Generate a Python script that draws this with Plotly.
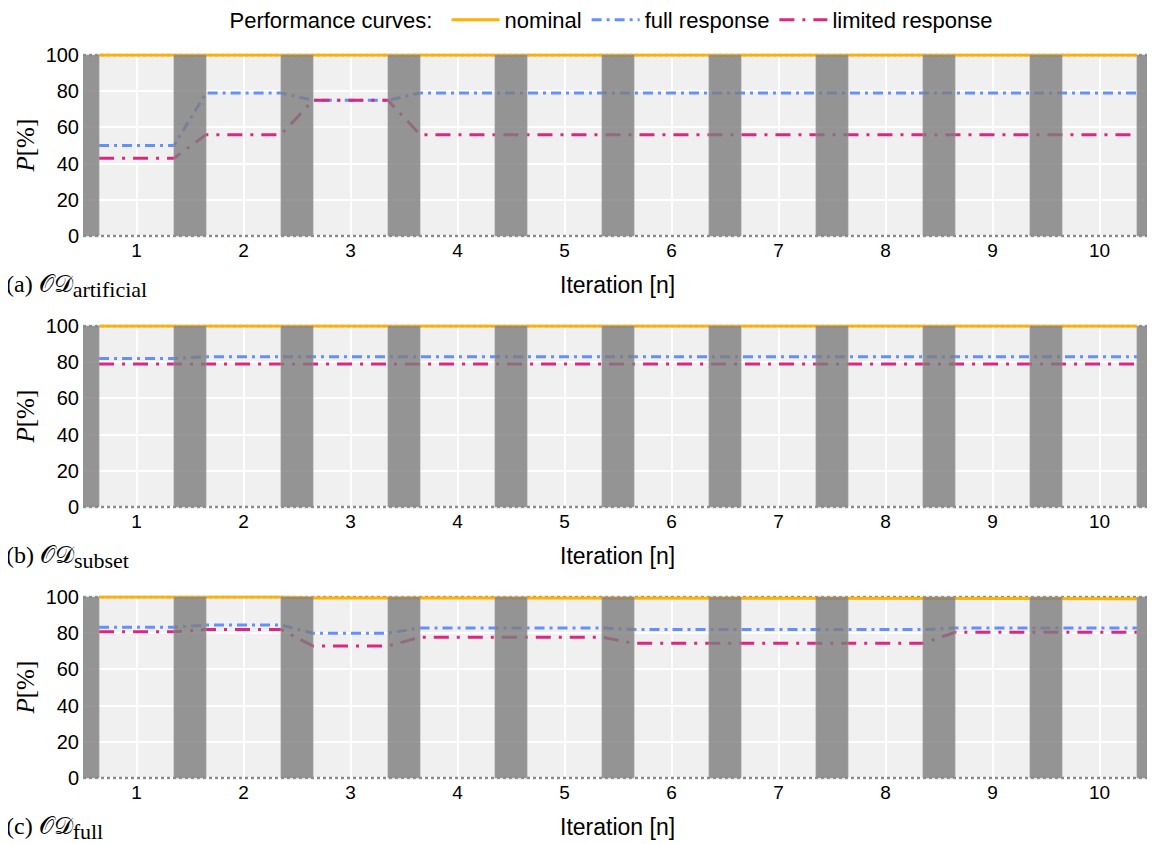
import plotly.graph_objects as go
from plotly.subplots import make_subplots

iterations = [1, 2, 3, 4, 5, 6, 7, 8, 9, 10]
x_tick_labels = ["1", "2", "3", "4", "5", "6", "7", "8", "9", "10"]
y_ticks = [0, 20, 40, 60, 80, 100]

panel_names = ["(a) ", "(b) ", "(c) "]
panel_subs = ["artificial", "subset", "full"]

# (a) OD_artificial
nominal_a = [100, 100, 100, 100, 100, 100, 100, 100, 100, 100]
full_a = [50, 79, 75, 79, 79, 79, 79, 79, 79, 79]
limited_a = [43, 56, 75, 56, 56, 56, 56, 56, 56, 56]

# (b) OD_subset
nominal_b = [100, 100, 100, 100, 100, 100, 100, 100, 100, 100]
full_b = [82, 83, 83, 83, 83, 83, 83, 83, 83, 83]
limited_b = [79, 79, 79, 79, 79, 79, 79, 79, 79, 79]

# (c) OD_full
nominal_c = [100, 100, 99.5, 99.5, 99.4, 99.4, 99.3, 99.3, 99.1, 99.1]
full_c = [83.3, 84.5, 80, 82.9, 82.9, 82.1, 82, 82, 82.9, 82.9]
limited_c = [80.8, 82, 72.9, 77.8, 77.8, 74.4, 74.4, 74.4, 80.5, 80.5]

panels = [
    (nominal_a, full_a, limited_a),
    (nominal_b, full_b, limited_b),
    (nominal_c, full_c, limited_c),
]

series_names = ["nominal", "full response", "limited response"]
colors = ["#FFB000", "#648FFF", "#DC267F"]
dashes = ["solid", "10px,5px,3px,5px", "15px,8px,3px,8px"]

SEG = 0.35   # half width of an iteration segment
BAND = 0.15  # half width of the gray separator band

# The page body has an 8px margin, so the figure is drawn offset by 8px.
OFF = 8
W, H = 1155 - OFF, 844 - OFF
ML, MR, MT, MB = 83 - OFF, 2, 50 - OFF, 60 - OFF
plot_h = H - MT - MB
plot_w = W - ML - MR
PX_PER_UNIT = 1.81
YPAD = 0.8
panel_tops = [55, 326, 597]  # screen pixel of y=100


def ypaper(py):
    return (H - MB - (py - OFF)) / plot_h


def xpaper(px):
    return ((px - OFF) - ML) / plot_w


fig = make_subplots(rows=3, cols=1)

sans = "Liberation Sans, Arial, sans-serif"
serif = "Liberation Serif, DejaVu Serif, serif"

for r, vals in enumerate(panels):
    row = r + 1
    for k, series in enumerate(vals):
        xs, ys = [], []
        for it, v in zip(iterations, series):
            xs += [it - SEG, it + SEG]
            ys += [v, v]
        fig.add_trace(
            go.Scatter(
                x=xs, y=ys, mode="lines", name=series_names[k],
                line=dict(color=colors[k], width=3, dash=dashes[k]),
                showlegend=(r == 0), legendgroup=series_names[k],
            ),
            row=row, col=1,
        )
    t = panel_tops[r]
    top_px = t - YPAD * PX_PER_UNIT
    bot_px = t + 100 * PX_PER_UNIT + YPAD * PX_PER_UNIT
    yax = "yaxis" if r == 0 else f"yaxis{row}"
    xax = "xaxis" if r == 0 else f"xaxis{row}"
    fig.layout[yax].update(
        domain=[ypaper(bot_px), ypaper(top_px)],
        range=[-YPAD, 100 + YPAD],
        tickvals=y_ticks, ticktext=[str(v) for v in y_ticks],
        showgrid=True, gridcolor="white", gridwidth=1.5,
        zeroline=False, showline=False,
        tickfont=dict(family=sans, size=20, color="black"),
        ticks="", ticklabelstandoff=3,
    )
    fig.layout[xax].update(
        range=[0.5, 10.5],
        tickvals=iterations, ticktext=x_tick_labels,
        showgrid=True, gridcolor="white", gridwidth=1.5,
        zeroline=False, showline=False,
        tickfont=dict(family=sans, size=19, color="black"),
        ticks="", ticklabelstandoff=0,
    )
    xref = "x" if r == 0 else f"x{row}"
    yref = "y" if r == 0 else f"y{row}"
    # dotted boundary lines at 0 and 100
    for yv in [0, 100]:
        fig.add_shape(type="line", xref=xref, yref=yref, x0=0.5, x1=10.5, y0=yv, y1=yv,
                      line=dict(color="#8a8a8a", width=2.5, dash="dot"), layer="between")
    # gray separator bands between iterations
    for b in [i - 0.5 for i in iterations] + [iterations[-1] + 0.5]:
        fig.add_shape(type="rect", xref=xref, yref=yref, x0=b - BAND, x1=b + BAND, y0=0, y1=100,
                      fillcolor="rgba(125,125,125,0.8)", line=dict(width=1, color="rgba(160,160,160,0.6)"),
                      layer="above")
    # axis titles & labels
    title_py = t + 230
    fig.add_annotation(xref="paper", yref="paper", x=xpaper(617), y=ypaper(title_py),
                       text="Iteration [n]", showarrow=False, xanchor="center", yanchor="middle",
                       font=dict(family=sans, size=23, color="black"))
    fig.add_annotation(xref="paper", yref="paper", x=xpaper(4), y=ypaper(title_py + 1),
                       text=panel_names[r] + "𝒪𝒟<sub><span style='font-size:22px'>" + panel_subs[r] + "</span></sub>",
                       showarrow=False, xanchor="left", yanchor="middle",
                       font=dict(family=serif, size=24, color="black"))
    fig.add_annotation(xref="paper", yref="paper", x=xpaper(25), y=ypaper(t + 90.5),
                       text="<i>P</i>[%]", showarrow=False, xanchor="center", yanchor="middle",
                       textangle=-90, font=dict(family=serif, size=25, color="black"))

fig.update_layout(
    width=W, height=H,
    margin=dict(l=ML, r=MR, t=MT, b=MB, autoexpand=False),
    paper_bgcolor="white", plot_bgcolor="#f0f0f0",
    font=dict(family=sans, size=20, color="black"),
    legend=dict(
        orientation="h", x=xpaper(613), xanchor="center", y=ypaper(20), yanchor="middle",
        title=dict(text="Performance curves: ", font=dict(family=sans, size=22, color="black")),
        font=dict(family=sans, size=22, color="black"), itemwidth=48,
        bgcolor="rgba(0,0,0,0)",
    ),
)

fig.write_html("out.html")
